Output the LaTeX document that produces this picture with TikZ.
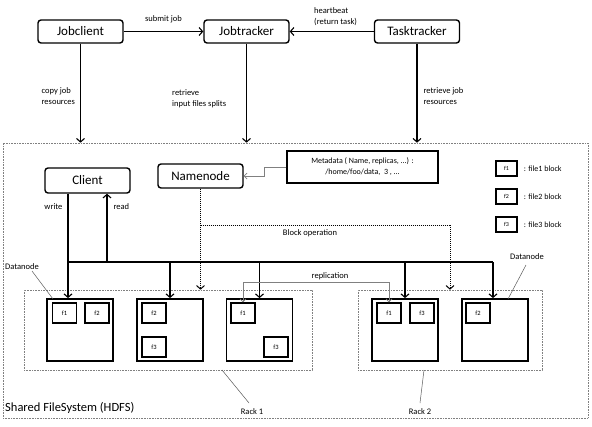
\documentclass[tikz,border=0pt]{standalone}
\usepackage{fontspec}
\setmainfont{Carlito}
\usepackage{tikz}
\usetikzlibrary{arrows.meta,positioning}

\begin{document}
\begin{tikzpicture}[x=1pt, y=-1pt,
    big/.style = {draw, line width=1.4pt, rounded corners=3pt, minimum width=85pt, minimum height=23pt, inner sep=0pt, font=\fontsize{13}{15}\selectfont},
    meta/.style = {draw, line width=1.4pt, minimum width=151pt, minimum height=32pt, align=center, inner sep=0pt, font=\fontsize{8}{11}\selectfont},
    dnode/.style = {draw, line width=1.8pt, minimum width=66pt, minimum height=62pt, inner sep=0pt},
    blk/.style = {draw, line width=1.3pt, minimum width=24pt, minimum height=20pt, inner sep=0pt, font=\fontsize{6.5}{7}\selectfont},
    lblk/.style = {draw, line width=1.3pt, minimum width=21pt, minimum height=15pt, inner sep=0pt, font=\fontsize{6}{7}\selectfont},
    rack/.style = {draw=gray, densely dotted, line width=0.6pt, inner sep=0pt},
    lbl/.style = {font=\fontsize{8.5}{11}\selectfont, align=left, inner sep=0pt},
    arr/.style = {line width=1.1pt, -{Straight Barb[length=3.5pt,width=8pt]}},
    darr/.style = {line width=1pt, densely dotted, -{Straight Barb[length=3.5pt,width=8pt]}},
    garr/.style = {draw=gray, line width=0.7pt, -{Straight Barb[length=3pt,width=6pt]}},
    lead/.style = {draw=gray!70!black, line width=0.5pt}]
\useasboundingbox (0,0) rectangle (592,426);

\node [big] (jc) at (80.5,31.5) {Jobclient};
\node [big] (jt) at (246.5,31.5) {Jobtracker};
\node [big] (tt) at (417,31.5) {Tasktracker};

\node [rack, minimum width=585pt, minimum height=275pt] (hdfs) at (295.5,280.5) {};
\node [anchor=west, inner sep=0pt, font=\fontsize{12.5}{14}\selectfont] (hdfsl) at (5,408) {Shared FileSystem (HDFS)};

\draw [arr] (jc) -- (jt) node [lbl, midway, above=8pt] {submit job};
\draw [arr] (tt) -- (jt);
\node [lbl, anchor=south west] (hb) at (314,26) {heartbeat\\(return task)};

\draw [arr] (jc.south) -- (jc.south |- hdfs.north) node [lbl, pos=0.53, left=5pt] {copy job\\resources};
\draw [arr] (jt.south) -- (jt.south |- hdfs.north);
\node [lbl, anchor=west] (rif) at (172,98.5) {retrieve\\input files splits};
\draw [arr] (tt.south) -- (tt.south |- hdfs.north) node [lbl, pos=0.53, anchor=west, xshift=6pt] {retrieve job\\resources};

\node [big, minimum height=25pt] (cl) at (87.5,180.5) {Client};
\node [big, minimum height=24pt] (nn) at (200.5,176) {Namenode};
\node [meta] (md) at (362.5,167) {Metadata ( Name, replicas, ...) :\\/home/foo/data,\ \ 3 , ...};
\draw [garr] (md.west) -- ++(-22,0) |- (nn.east);

\node [lblk] (lf1) at (506.5,168.5) {f1};
\node [lblk] (lf2) at (506.5,196.5) {f2};
\node [lblk] (lf3) at (506.5,224.5) {f3};
\node [lbl, right=6pt of lf1, font=\fontsize{8}{10}\selectfont] {: file1 block};
\node [lbl, right=6pt of lf2, font=\fontsize{8}{10}\selectfont] {: file2 block};
\node [lbl, right=6pt of lf3, font=\fontsize{8}{10}\selectfont] {: file3 block};

\node [rack, minimum width=288pt, minimum height=80pt] (rack1) at (168,330) {};
\node [rack, minimum width=184pt, minimum height=80pt] (rack2) at (450,330) {};

\node [dnode] (dn11) at (80,330) {};
\node [dnode] (dn12) at (170,330) {};
\node [dnode] (dn13) at (259.5,330) {};
\node [dnode] (dn21) at (405,330) {};
\node [dnode] (dn22) at (495,330) {};

\node [blk] (b11a) at (64.5,313) {f1};
\node [blk] (b11b) at (97,313) {f2};
\node [blk] (b12a) at (154,313) {f2};
\node [blk] (b12b) at (154,347) {f3};
\node [blk] (b13a) at (243,313) {f1};
\node [blk] (b13b) at (276,347) {f3};
\node [blk] (b21a) at (389,313) {f1};
\node [blk] (b21b) at (422,313) {f3};
\node [blk] (b22a) at (478,313) {f2};

\coordinate (busw) at (68,262);
\coordinate (buse) at (493,262);
\coordinate (rd) at (107,262);
\draw [line width=1.1pt] (busw) -- (buse);
\draw [arr] (cl.south -| busw) -- (busw |- dn11.north) node [lbl, pos=0.12, left=5pt] {write};
\draw [arr] (rd) -- (rd |- cl.south) node [lbl, pos=0.81, right=6pt] {read};
\draw [arr] (busw -| dn12.north) -- (dn12.north);
\draw [arr] (busw -| dn13.north) -- (dn13.north);
\draw [arr] (busw -| dn21.north) -- (dn21.north);
\draw [arr] (buse) -- (buse |- dn22.north);

\coordinate (bo1) at (nn.south |- 0,225);
\coordinate (bo2) at (450,225);
\draw [darr] (nn.south) -- (nn.south |- rack1.north);
\draw [darr, -] (bo1) -- (bo2);
\draw [darr] (bo2) -- (bo2 |- rack2.north);
\node [lbl] (bol) at (310,233) {Block operation};

\draw [garr, {Straight Barb[length=3pt,width=6pt]}-{Straight Barb[length=3pt,width=6pt]}] (b13a.north) -- ++(0,-20) -| (b21a.north);
\node [lbl] (repl) at (330,276) {replication};

\node [lbl, anchor=west] (dnl) at (5,267) {Datanode};
\draw [lead] (32,271) -- (53,299);
\node [lbl, anchor=west] (dnr) at (510,257) {Datanode};
\draw [lead] (526,265) -- (508,299);

\node [lbl] (r1) at (252,412) {Rack 1};
\draw [lead] (222,370) -- (249,403);
\node [lbl] (r2) at (420,412) {Rack 2};
\draw [lead] (424,370) -- (420,403);
\end{tikzpicture}
\end{document}
